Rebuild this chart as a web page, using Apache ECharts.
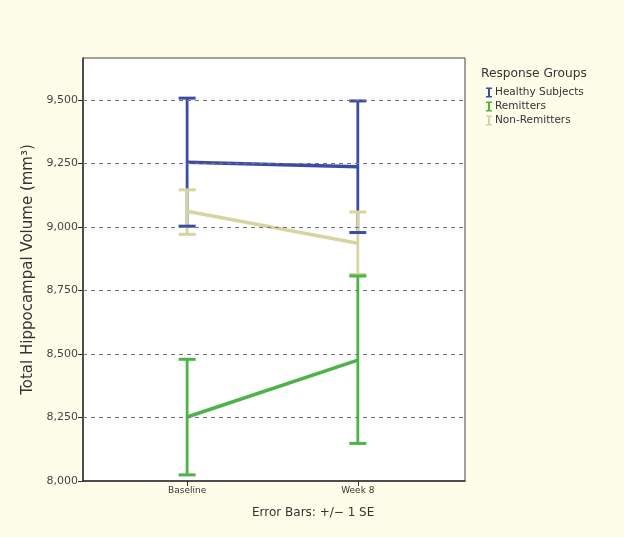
<!DOCTYPE html>
<html>
<head>
<meta charset="utf-8">
<script src="https://cdn.jsdelivr.net/npm/echarts@6/dist/echarts.min.js"></script>
<style>html,body{margin:0;padding:0;background:#fefde9;}#c{width:624px;height:537px;}</style>
</head>
<body>
<div id="c"></div>
<script>
var categories = ['Baseline', 'Week 8'];
var groups = ['Healthy Subjects', 'Remitters', 'Non-Remitters'];
var colors = ['#3b4ca6', '#4cb446', '#d7d59f'];
var means = {
  'Healthy Subjects': [9255, 9237],
  'Remitters': [8252, 8476],
  'Non-Remitters': [9062, 8936]
};
var lowers = {
  'Healthy Subjects': [9003, 8978],
  'Remitters': [8024, 8148],
  'Non-Remitters': [8971, 8813]
};
var uppers = {
  'Healthy Subjects': [9507, 9496],
  'Remitters': [8479, 8807],
  'Non-Remitters': [9146, 9059]
};
var yTicks = [8000, 8250, 8500, 8750, 9000, 9250, 9500];

var chart = echarts.init(document.getElementById('c'));
var series = [];

function errSeries(gi, part, z) {
  var g = groups[gi];
  return {
    name: g,
    type: 'custom',
    z: z,
    itemStyle: { color: colors[gi] },
    renderItem: function (params, api) {
      var x = api.value(0);
      var lo = api.coord([x, api.value(1)]);
      var hi = api.coord([x, api.value(2)]);
      var hw = 8.5;
      if (part === 'stem') {
        return { type: 'line', shape: { x1: lo[0], y1: lo[1], x2: hi[0], y2: hi[1] }, style: { stroke: colors[gi], lineWidth: 2.8 } };
      }
      return {
        type: 'group',
        children: [
          { type: 'line', shape: { x1: lo[0] - hw, y1: lo[1], x2: lo[0] + hw, y2: lo[1] }, style: { stroke: colors[gi], lineWidth: 3 } },
          { type: 'line', shape: { x1: hi[0] - hw, y1: hi[1], x2: hi[0] + hw, y2: hi[1] }, style: { stroke: colors[gi], lineWidth: 3 } }
        ]
      };
    },
    encode: { x: 0, y: [1, 2] },
    data: categories.map(function (c, i) { return [i, lowers[g][i], uppers[g][i]]; })
  };
}

[0, 1, 2].forEach(function (gi, k) { series.push(errSeries(gi, 'stem', 2 + k * 0.1)); });
[2, 1, 0].forEach(function (gi, k) { series.push(errSeries(gi, 'cap', 3 + k * 0.1)); });
[2, 1, 0].forEach(function (gi, k) {
  var g = groups[gi];
  series.push({
    name: g,
    type: 'line',
    z: 4 + k * 0.1,
    symbol: 'none',
    lineStyle: { color: colors[gi], width: 3.5 },
    itemStyle: { color: colors[gi] },
    data: categories.map(function (c, i) { return [i, means[g][i]]; })
  });
});

chart.setOption({
  backgroundColor: '#fefde9',
  animation: false,
  title: {
    text: 'Response Groups',
    left: 476, top: 63,
    textStyle: { fontFamily: 'DejaVu Sans', fontSize: 12.2, fontWeight: 'normal', color: '#333' }
  },
  legend: {
    orient: 'vertical',
    left: 481, top: 82,
    itemWidth: 6, itemHeight: 10, itemGap: 3,
    icon: 'path://M0,0H6V1.5H4V8.5H6V10H0V8.5H2V1.5H0Z',
    data: groups.map(function (g, i) { return { name: g, itemStyle: { color: colors[i] } }; }),
    textStyle: { fontFamily: 'DejaVu Sans', fontSize: 10.5, color: '#333', padding: [0, 0, 0, -2] },
    selectedMode: false
  },
  graphic: [{
    type: 'text',
    left: 252, top: 507,
    style: { text: 'Error Bars: +/\u2212 1 SE', font: '12px "DejaVu Sans"', fill: '#333' }
  }],
  grid: { left: 83, right: 159, top: 58, bottom: 56, show: true, backgroundColor: '#ffffff', borderColor: '#444', borderWidth: 1 },
  xAxis: {
    type: 'value',
    min: -0.61, max: 1.628,
    axisLine: { show: true, onZero: false, lineStyle: { color: '#333', width: 1.5 } },
    axisTick: { show: true, customValues: [0, 1], length: 5, lineStyle: { color: '#333' } },
    axisLabel: {
      customValues: [0, 1],
      formatter: function (v) { return categories[Math.round(v)] || ''; },
      fontFamily: 'DejaVu Sans', fontSize: 9, color: '#333', margin: 5
    },
    splitLine: { show: false }
  },
  yAxis: {
    type: 'value',
    min: 8000, max: 9665,
    name: 'Total Hippocampal Volume (mm\u00b3)',
    nameLocation: 'middle',
    nameGap: 41,
    nameTextStyle: { fontFamily: 'DejaVu Sans', fontSize: 15, color: '#333' },
    axisLine: { show: true, onZero: false, lineStyle: { color: '#333', width: 1.5 } },
    axisTick: { show: true, customValues: yTicks, length: 5, lineStyle: { color: '#333' } },
    axisLabel: {
      customValues: yTicks,
      formatter: function (v) { return v.toLocaleString('en-US'); },
      fontFamily: 'DejaVu Sans', fontSize: 11, color: '#444', margin: 5
    },
    splitLine: { show: false }
  },
  series: series.concat([{
    type: 'line',
    silent: true,
    data: [],
    markLine: {
      symbol: 'none',
      silent: true,
      label: { show: false },
      lineStyle: { color: '#777', type: [4, 4], width: 1 },
      data: yTicks.slice(1).map(function (v) { return { yAxis: v }; })
    },
    z: 1
  }])
});
</script>
</body>
</html>
